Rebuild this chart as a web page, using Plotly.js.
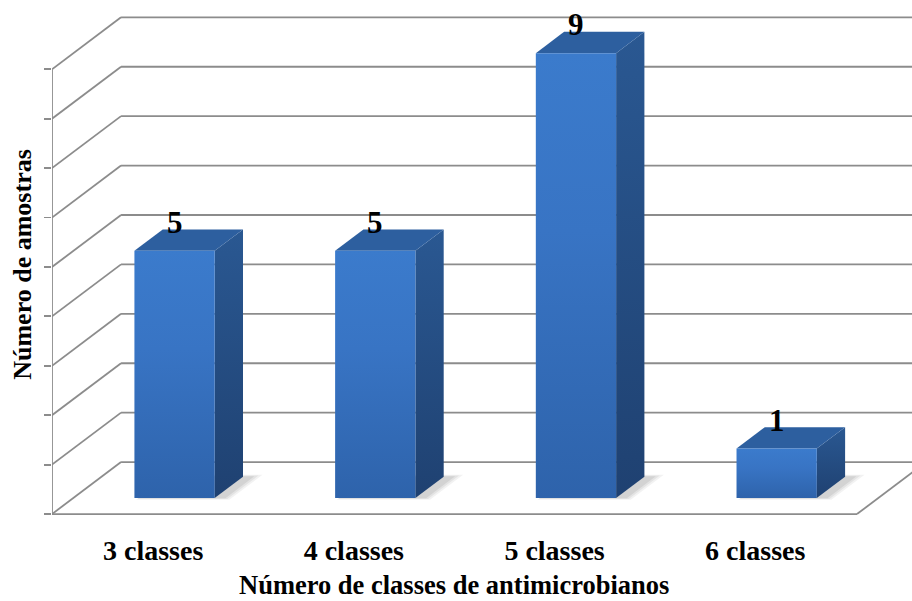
<!DOCTYPE html>
<html>
<head>
<meta charset="utf-8">
<script src="https://cdn.plot.ly/plotly-3.0.1.min.js"></script>
<style>
  html, body { margin: 0; padding: 0; background: #ffffff; }
  #chart { width: 912px; height: 601px; }
</style>
</head>
<body>
<div id="chart"></div>
<script>
// Number of samples per count of antimicrobial classes
const categories = ['3 classes', '4 classes', '5 classes', '6 classes'];
const amostras = [5, 5, 9, 1];
const valueTicks = [0, 1, 2, 3, 4, 5, 6, 7, 8, 9];
const xTitle = 'Número de classes de antimicrobianos';
const yTitle = 'Número de amostras';

// Oblique "3-D" projection expressed in axis units:
// a point at depth d (0 = front edge, 1 = back wall) is shifted by d*DEPTH_X, d*DEPTH_Y
const DEPTH_X = 0.344;
const DEPTH_Y = 1.052;
const FLOOR_LEFT = -0.504;
const FLOOR_RIGHT = 3.507;
const BAR_HALF = 0.2;
const BAR_FRONT = 0.31;
const BAR_BACK = 0.72;

function proj(x, y, d) {
  return [x + d * DEPTH_X, y + d * DEPTH_Y];
}

const GRID = '#8c8c8c';
const shapes = [];
function seg(a, b, width) {
  shapes.push({
    type: 'line', xref: 'x', yref: 'y', layer: 'below',
    x0: a[0], y0: a[1], x1: b[0], y1: b[1],
    line: { color: GRID, width: width || 1.8 }
  });
}

// back wall and side wall grid
valueTicks.forEach(k => {
  const back = proj(FLOOR_LEFT, k, 1);
  seg(back, [5, back[1]]);
  seg(proj(FLOOR_LEFT, k, 0), back);
});
// floor edges and vertical value axis
seg(proj(FLOOR_LEFT, 0, 0), proj(FLOOR_RIGHT, 0, 0));
seg(proj(FLOOR_RIGHT, 0, 0), proj(FLOOR_RIGHT, 0, 1));
seg(proj(FLOOR_LEFT, 0, 0), proj(FLOOR_LEFT, valueTicks[valueTicks.length - 1], 0));

function poly(points) {
  const xs = points.map(p => p[0]);
  const ys = points.map(p => p[1]);
  xs.push(xs[0]); ys.push(ys[0]);
  return { x: xs, y: ys };
}

const traces = [];
amostras.forEach((v, i) => {
  const L = i - BAR_HALF, R = i + BAR_HALF;

  // soft floor shadow, layered for a blurred edge
  [[0.035, 0.05], [0.02, 0.06], [0.005, 0.07]].forEach(([grow, alpha]) => {
    const s = poly([
      proj(L + 0.02, 0, BAR_FRONT - grow),
      proj(R + 0.05 + grow, 0, BAR_FRONT - grow),
      proj(R + 0.05 + grow, 0, BAR_BACK + grow),
      proj(L + 0.02, 0, BAR_BACK + grow)
    ]);
    traces.push({
      type: 'scatter', mode: 'lines', x: s.x, y: s.y, fill: 'toself',
      fillcolor: 'rgba(0,0,0,' + alpha + ')', line: { width: 0 },
      hoverinfo: 'skip', showlegend: false
    });
  });

  const side = poly([
    proj(R, 0, BAR_FRONT), proj(R, 0, BAR_BACK),
    proj(R, v, BAR_BACK), proj(R, v, BAR_FRONT)
  ]);
  traces.push({
    type: 'scatter', mode: 'lines', x: side.x, y: side.y, fill: 'toself',
    fillcolor: '#25508a',
    fillgradient: { type: 'vertical', colorscale: [[0, '#1f4171'], [1, '#2a5892']] },
    line: { width: 0 }, hoverinfo: 'skip', showlegend: false
  });

  const top = poly([
    proj(L, v, BAR_FRONT), proj(R, v, BAR_FRONT),
    proj(R, v, BAR_BACK), proj(L, v, BAR_BACK)
  ]);
  traces.push({
    type: 'scatter', mode: 'lines', x: top.x, y: top.y, fill: 'toself',
    fillcolor: '#2d5f9f', line: { width: 0 }, hoverinfo: 'skip', showlegend: false
  });

  const front = poly([
    proj(L, 0, BAR_FRONT), proj(R, 0, BAR_FRONT),
    proj(R, v, BAR_FRONT), proj(L, v, BAR_FRONT)
  ]);
  traces.push({
    type: 'scatter', mode: 'lines', x: front.x, y: front.y, fill: 'toself',
    fillcolor: '#3572c0',
    fillgradient: { type: 'vertical', colorscale: [[0, '#2e63ab'], [0.6, '#3874c4'], [1, '#3b7bcc']] },
    line: { width: 0 }, hoverinfo: 'text', text: categories[i] + ': ' + v,
    showlegend: false
  });
});

const serif = 'Liberation Serif, Times New Roman, serif';

// value labels above each bar
const annotations = amostras.map((v, i) => {
  const p = proj(i, v, BAR_BACK);
  return {
    xref: 'x', yref: 'y',
    x: proj(i, v, BAR_FRONT)[0], y: p[1],
    text: String(v), showarrow: false,
    xanchor: 'center', yanchor: 'middle', yshift: 7,
    font: { family: serif, size: 31, color: '#000000', weight: 'bold' }
  };
});

// category-axis title, resting on the bottom edge of the figure
annotations.push({
  xref: 'paper', yref: 'paper', x: 0.468, y: -0.161,
  xanchor: 'center', yanchor: 'bottom', showarrow: false, borderpad: 0,
  text: xTitle,
  font: { family: serif, size: 26.5, color: '#000000', weight: 'bold' }
});

const layout = {
  width: 912, height: 601,
  margin: { l: 52, r: 0, t: 10, b: 82 },
  paper_bgcolor: '#ffffff', plot_bgcolor: 'rgba(0,0,0,0)',
  showlegend: false,
  shapes: shapes,
  annotations: annotations,
  xaxis: {
    range: [FLOOR_LEFT, FLOOR_LEFT + 860 / 200.7],
    tickvals: categories.map((c, i) => i),
    ticktext: categories,
    showgrid: false, zeroline: false, showline: false, ticks: '',
    ticklabelstandoff: 12,
    tickfont: { family: serif, size: 28, color: '#000000', weight: 'bold' },
    fixedrange: true
  },
  yaxis: {
    range: [-0.1, 10.2],
    tickvals: valueTicks,
    showticklabels: false,
    ticks: 'outside', ticklen: 7, tickwidth: 1.8, tickcolor: GRID,
    showgrid: false, zeroline: false, showline: false,
    title: {
      text: yTitle,
      font: { family: serif, size: 26, color: '#000000', weight: 'bold' },
      standoff: 4
    },
    fixedrange: true
  }
};

Plotly.newPlot('chart', traces, layout, { displayModeBar: false, staticPlot: true });
</script>
</body>
</html>
